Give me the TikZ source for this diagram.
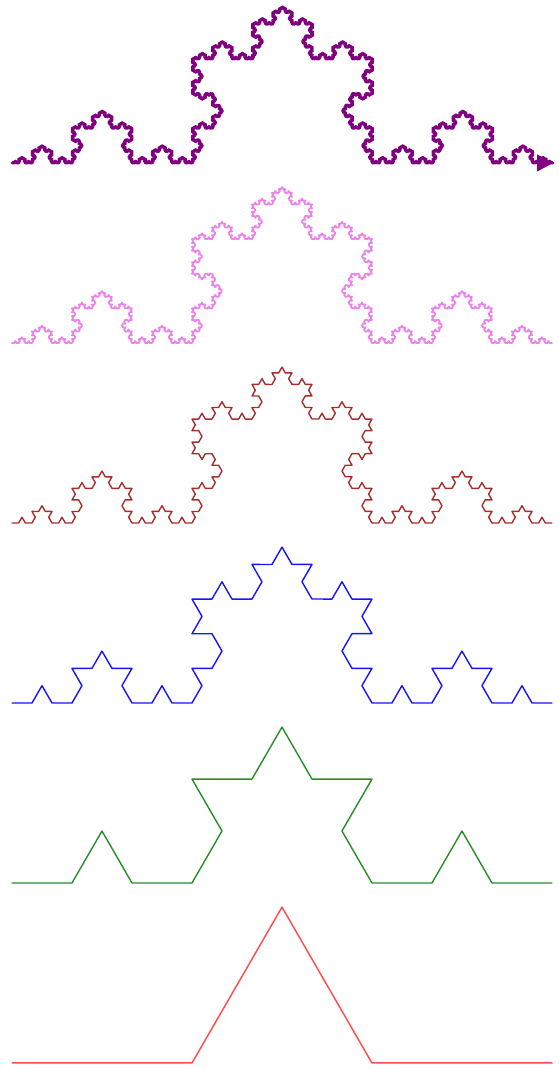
\documentclass[tikz,border=0pt]{standalone}
\usetikzlibrary{decorations.fractals,arrows.meta}
\definecolor{kpurple}{RGB}{128,0,128}
\definecolor{kpink}{RGB}{236,130,236}
\definecolor{kbrown}{RGB}{168,45,45}
\definecolor{kblue}{RGB}{20,20,255}
\definecolor{kgreen}{RGB}{40,140,40}
\definecolor{kred}{RGB}{255,80,80}
\tikzset{koch/.style={line join=round,line cap=round,decoration=Koch snowflake}}
\begin{document}
\begin{tikzpicture}
\useasboundingbox (0,0) rectangle (559pt,1068pt);
\coordinate (a1) at (12pt,5pt);   \coordinate (b1) at (552pt,5pt);
\coordinate (a2) at (12pt,185pt); \coordinate (b2) at (552pt,185pt);
\coordinate (a3) at (12pt,365pt); \coordinate (b3) at (552pt,365pt);
\coordinate (a4) at (12pt,545pt); \coordinate (b4) at (552pt,545pt);
\coordinate (a5) at (12pt,725pt); \coordinate (b5) at (552pt,725pt);
\coordinate (a6) at (12pt,905pt); \coordinate (b6) at (553pt,905pt);
\coordinate (t6) at (551pt,905pt);
\draw[koch,kred,line width=1.5pt] decorate{(a1) -- (b1)};
\draw[koch,kgreen,line width=1.4pt] decorate{decorate{(a2) -- (b2)}};
\draw[koch,kblue,line width=1.4pt] decorate{decorate{decorate{(a3) -- (b3)}}};
\draw[koch,kbrown,line width=1.4pt] decorate{decorate{decorate{decorate{(a4) -- (b4)}}}};
\draw[koch,kpink,line width=1.8pt] decorate{decorate{decorate{decorate{decorate{(a5) -- (b5)}}}}};
\draw[koch,kpurple,line width=2.8pt]
  decorate{decorate{decorate{decorate{decorate{decorate{(a6) -- (b6)}}}}}};
\draw[kpurple,line width=1pt,-{Triangle[length=16pt,width=17pt]}] (t6) -- (b6);
\end{tikzpicture}
\end{document}
